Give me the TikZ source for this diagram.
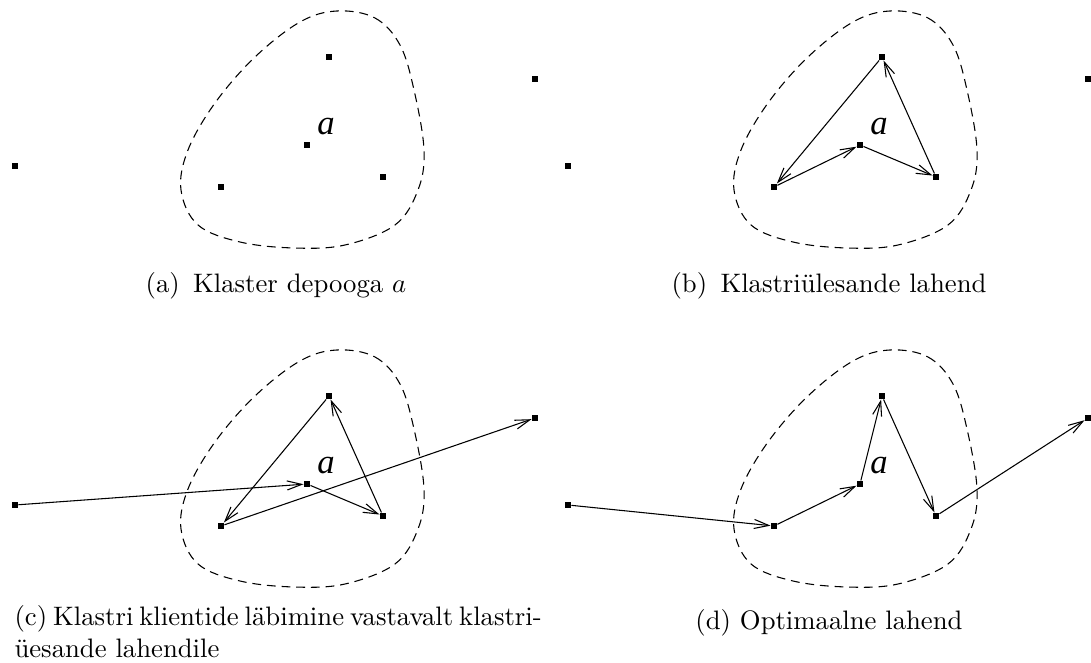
\documentclass[tikz,border=0pt]{standalone}
\usepackage{fontspec}
\newfontfamily\xfigfont{Liberation Serif}
\usetikzlibrary{arrows.meta}

\tikzset{
  punkt/.style={rectangle, fill=black, inner sep=0pt, minimum size=2.2pt},
  tee/.style={-{Straight Barb[length=5.5pt,width=3.4pt]}, line width=0.4pt},
  piir/.style={dash pattern=on 3.3pt off 2.2pt, line width=0.4pt},
  silt/.style={font=\xfigfont\itshape\fontsize{13}{15}\selectfont, inner sep=0pt},
  pealdis/.style={anchor=base, inner sep=0pt}
}

\begin{document}
\begin{tikzpicture}[x=0.3745pt, y=-0.3745pt]
  \useasboundingbox (0,0) rectangle (1091,663);

  % klaster, kliendid ja depoo igal alampildil
  \foreach \p/\dx/\dy in {a/0/0, b/553/0, c/0/339, d/553/339} {
    \begin{scope}[shift={(\dx,\dy)}]
      \draw[piir] plot[smooth cycle, tension=0.6] coordinates {
        (337,11) (375,18) (400,45) (414,90) (424,150) (418,190) (395,225)
        (345,245) (294,248) (240,242) (198,225) (181,190) (188,150)
        (215,103) (255,57) (300,22)};
      \node[punkt] (\p-v)  at (15,166) {};
      \node[punkt] (\p-k1) at (329,57) {};
      \node[punkt] (\p-d)  at (307,145) {};
      \node[punkt] (\p-k2) at (221,187) {};
      \node[punkt] (\p-k3) at (383,177) {};
      \node[punkt] (\p-p)  at (535,79) {};
      \node[silt] (\p-silt) at (326,127) {a};
    \end{scope}
  }

  % (b) klastriulesande lahend
  \draw[tee] (b-k2) -- (b-d);
  \draw[tee] (b-d) -- (b-k3);
  \draw[tee] (b-k3) -- (b-k1);
  \draw[tee] (b-k1) -- (b-k2);

  % (c)
  \draw[tee] (c-v) -- (c-d);
  \draw[tee] (c-d) -- (c-k3);
  \draw[tee] (c-k3) -- (c-k1);
  \draw[tee] (c-k1) -- (c-k2);
  \draw[tee] (c-k2) -- (c-p);

  % (d) optimaalne
  \draw[tee] (d-v) -- (d-k2);
  \draw[tee] (d-k2) -- (d-d);
  \draw[tee] (d-d) -- (d-k1);
  \draw[tee] (d-k1) -- (d-k3);
  \draw[tee] (d-k3) -- (d-p);

  \node[pealdis] (a-cap) at (276,293) {(a)\enspace Klaster depooga $a$};
  \node[pealdis] (b-cap) at (829,293) {(b)\enspace Klastriülesande lahend};
  \node[pealdis, anchor=base west, align=left] (c-cap) at (14,658)
    {\hbox to 196pt{(c) Klastri klientide läbimine vastavalt klastri-}\\üesande lahendile};
  \node[pealdis] (d-cap) at (829,630) {(d) Optimaalne lahend};
\end{tikzpicture}
\end{document}
